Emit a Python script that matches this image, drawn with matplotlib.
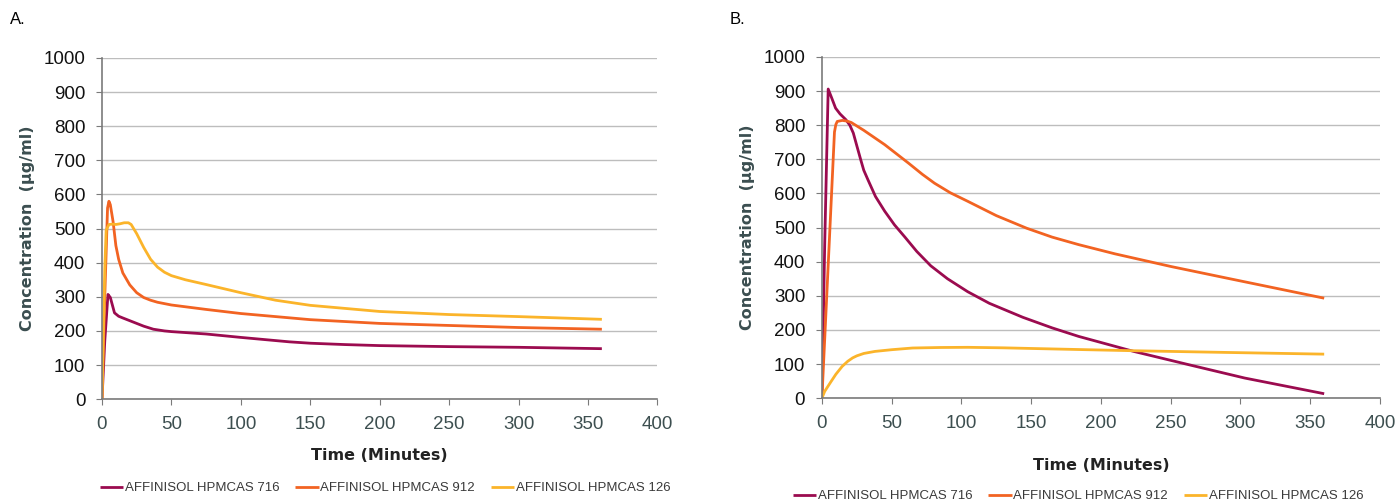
import matplotlib.pyplot as plt
from matplotlib.ticker import MultipleLocator

# panel A data (time in minutes, concentration in ug/ml)
t_a_716 = [0, 2, 4.3, 6, 9, 12, 15, 20, 25, 30, 37, 45, 50, 75, 100, 135, 150, 175, 200, 250, 300, 360]
c_a_716 = [0, 170, 307, 298, 253, 243, 238, 230, 222, 214, 205, 200, 198, 191, 181, 168, 164, 160, 157, 154, 152, 148]
t_a_912 = [0, 2, 4, 5, 6, 8, 10, 12, 15, 20, 25, 30, 35, 40, 50, 75, 100, 125, 150, 200, 250, 300, 360]
c_a_912 = [0, 300, 560, 580, 570, 520, 450, 410, 370, 335, 312, 298, 290, 284, 276, 263, 251, 242, 233, 222, 216, 210, 205]
t_a_126 = [0, 2, 3, 5, 8, 10, 13, 16, 19, 21, 25, 30, 35, 40, 45, 50, 60, 75, 100, 125, 150, 200, 250, 300, 360]
c_a_126 = [0, 380, 495, 512, 513, 512, 514, 517, 517, 512, 485, 445, 410, 387, 372, 362, 350, 336, 312, 290, 275, 257, 248, 242, 234]

# panel B data
t_b_716 = [0, 2, 4.5, 7, 9.8, 13, 17.2, 20, 22.5, 25, 27.8, 30, 33, 38.4, 45, 52, 59.5, 68, 78, 90, 104.5, 120, 144, 165, 184, 223.5, 263, 303, 360]
c_b_716 = [0, 450, 906, 880, 850, 833, 816, 800, 777, 740, 699, 668, 640, 591, 548, 508, 472, 430, 388, 350, 312, 278, 237, 206, 181, 137, 98, 59, 13]
t_b_912 = [0, 3, 6, 9, 10, 11, 14.6, 18, 21, 30, 45, 62, 72, 80.7, 92, 104.5, 125, 146.8, 165, 184, 210, 250, 290, 360]
c_b_912 = [0, 260, 520, 780, 802, 811, 814, 812, 808, 785, 743, 689, 656, 630, 602, 577, 535, 498, 472, 450, 423, 386, 352, 293]
t_b_126 = [0, 2, 6.6, 10, 14.5, 18.5, 22, 25, 30, 38, 50, 65, 85, 104.5, 130, 157, 190, 223.5, 290, 360]
c_b_126 = [0, 20, 49, 70, 93, 108, 118, 124, 131, 137, 142, 147, 148.5, 149, 147.5, 145, 142, 139, 134, 129]

labels = ['AFFINISOL HPMCAS 716', 'AFFINISOL HPMCAS 912', 'AFFINISOL HPMCAS 126']
colors = ['#9b0b4f', '#f26322', '#fbb42a']

plt.rcParams['font.family'] = ['Liberation Sans', 'DejaVu Sans']

fig = plt.figure(figsize=(13.99, 5.04), dpi=100)
ax_a = fig.add_axes([0.0729, 0.208, 0.397, 0.677])
ax_b = fig.add_axes([0.5875, 0.210, 0.3989, 0.677])

panels = [
    (ax_a, [(t_a_716, c_a_716), (t_a_912, c_a_912), (t_a_126, c_a_126)]),
    (ax_b, [(t_b_716, c_b_716), (t_b_912, c_b_912), (t_b_126, c_b_126)]),
]

for ax, series in panels:
    for (t, c), lab, col in zip(series, labels, colors):
        ax.plot(t, c, color=col, lw=2, label=lab, solid_joinstyle='round', solid_capstyle='butt')
    ax.set_xlim(0, 400)
    ax.set_ylim(0, 1000)
    ax.xaxis.set_major_locator(MultipleLocator(50))
    ax.yaxis.set_major_locator(MultipleLocator(100))
    ax.grid(axis='y', color='#bdbdbd', lw=1)
    ax.set_axisbelow(True)
    for s in ['top', 'right']:
        ax.spines[s].set_visible(False)
    for s in ['left', 'bottom']:
        ax.spines[s].set_color('#7a7a7a')
        ax.spines[s].set_linewidth(1.2)
    ax.tick_params(axis='both', direction='out', length=4, color='#7a7a7a', labelsize=13.5)
    ax.tick_params(axis='y', pad=8, labelcolor='#111111')
    ax.tick_params(axis='x', pad=8, labelcolor='#3d4f50')
    ax.set_ylabel('Concentration  (µg/ml)', family='DejaVu Sans', fontweight='bold',
                  fontsize=11.5, color='#3b4e50', labelpad=6)

ax_a.set_xlabel('Time (Minutes)', family='DejaVu Sans', fontweight='bold', fontsize=11.5,
                color='#222222', labelpad=11)
ax_b.set_xlabel('Time (Minutes)', family='DejaVu Sans', fontweight='bold', fontsize=11.5,
                color='#222222', labelpad=19)

fig.text(10 / 1399, 1 - 20 / 504, 'A.', fontsize=12, va='center', ha='left')
fig.text(730 / 1399, 1 - 20 / 504, 'B.', fontsize=12, va='center', ha='left')

leg_kw = dict(ncol=3, frameon=False, fontsize=9.5, handlelength=1.8, handletextpad=0.1,
              columnspacing=1.2, labelcolor='#3a3a3a')
ax_a.legend(loc='center', bbox_to_anchor=(385 / 1399, 1 - 488 / 504), bbox_transform=fig.transFigure, **leg_kw)
ax_b.legend(loc='center', bbox_to_anchor=(1078 / 1399, 1 - 496 / 504), bbox_transform=fig.transFigure, **leg_kw)

fig.savefig('out.png', dpi=100)
